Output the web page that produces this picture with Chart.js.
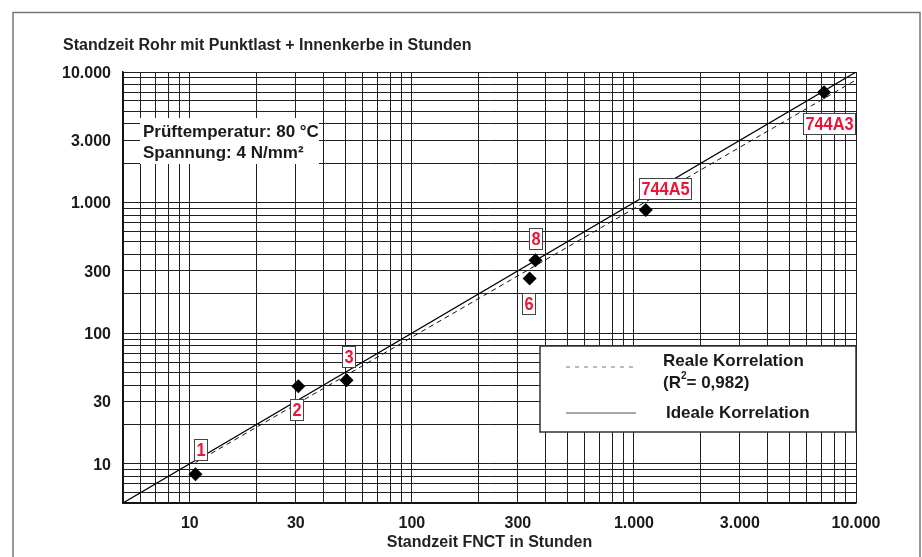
<!DOCTYPE html>
<html>
<head>
<meta charset="utf-8">
<script src="https://cdn.jsdelivr.net/npm/chart.js@4.4.1/dist/chart.umd.min.js"></script>
<style>
  html, body { margin: 0; padding: 0; background: #fff; }
  #chart { display: block; }
</style>
</head>
<body>
<canvas id="chart" width="922" height="557" style="width:922px;height:557px"></canvas>
<script>
const sampleNames = ['1', '2', '3', '6', '8', '744A5', '744A3'];
const fnctHours   = [10.6, 30.8, 50.8, 339, 360, 1130, 7180];
const pipeHours   = [8.3, 39.2, 43.6, 262, 362, 877, 7000];

// Korrelationsgeraden
const idealX = [5, 10000];
const idealY = [5, 10000];
const realX  = [10.6, 10000];
const realY  = [10.2, 8690];

const majorTicks = [10, 30, 100, 300, 1000, 3000, 10000];
const axisMin = 5, axisMax = 10000;

const FONT = "'Liberation Sans', Arial, Helvetica, sans-serif";
const RED = '#e8173a';
const INK = '#1a1a1a';

// alle Gitterlinien 5..10000
const gridValues = [];
for (let d = 1; d <= 1000; d *= 10) {
  for (let m = 1; m <= 9; m++) {
    const v = m * d;
    if (v >= axisMin) gridValues.push(v);
  }
}
gridValues.push(10000);

function deNum(v) {
  return String(v).replace(/\B(?=(\d{3})+(?!\d))/g, '.');
}

// Lage der roten Beschriftungen relativ zum Punkt
const labelOffset = {
  '1': [5, -25], '2': [-2, 23], '3': [2, -24], '6': [-1, 25],
  '8': [0, -22], '744A5': [19, -22], '744A3': [5, 31],
};

function logAxis(extra) {
  return Object.assign({
    type: 'logarithmic',
    min: axisMin,
    max: axisMax,
    afterBuildTicks: s => { s.ticks = gridValues.map(v => ({ value: v })); },
    ticks: {
      autoSkip: false,
      maxRotation: 0,
      color: INK,
      font: { family: FONT, size: 16, weight: 'bold' },
      callback: v => majorTicks.includes(v) ? deNum(v) : '',
    },
    grid: { color: '#1f1f1f', lineWidth: 1, drawTicks: false },
    border: { color: '#111', width: 1.5 },
  }, extra);
}

const decor = {
  id: 'decor',
  beforeDraw(chart) {
    const ctx = chart.ctx;
    ctx.save();
    ctx.fillStyle = '#fff';
    ctx.fillRect(0, 0, chart.width, chart.height);
    ctx.strokeStyle = '#777';
    ctx.lineWidth = 1.5;
    ctx.strokeRect(13, 12.5, 907, 600);
    ctx.restore();
  },
  afterDatasetsDraw(chart) {
    const ctx = chart.ctx, a = chart.chartArea;
    const xs = chart.scales.x, ys = chart.scales.y;
    ctx.save();

    // Titel
    ctx.fillStyle = '#222';
    ctx.font = `bold 16px ${FONT}`;
    ctx.textAlign = 'left';
    ctx.textBaseline = 'alphabetic';
    ctx.fillText('Standzeit Rohr mit Punktlast + Innenkerbe in Stunden', 63, 50);

    // Achsentitel
    ctx.textAlign = 'center';
    ctx.fillText('Standzeit FNCT in Stunden', (a.left + a.right) / 2, 547);

    // Prüfbedingungen
    ctx.fillStyle = '#fff';
    ctx.fillRect(a.left + 17, 118, 179, 46);
    ctx.fillStyle = INK;
    ctx.textAlign = 'left';
    ctx.font = `bold 17px ${FONT}`;
    ctx.fillText('Prüftemperatur: 80 °C', a.left + 20, 137);
    ctx.fillText('Spannung: 4 N/mm²', a.left + 20, 158);

    // Legende
    const lx = 540, ly = 346, lr = a.right, lb = 432;
    ctx.fillStyle = '#fff';
    ctx.fillRect(lx, ly, lr - lx, lb - ly);
    ctx.strokeStyle = '#333';
    ctx.lineWidth = 1.5;
    ctx.strokeRect(lx, ly, lr - lx, lb - ly);

    ctx.strokeStyle = '#777';
    ctx.lineWidth = 1.2;
    ctx.setLineDash([4, 5]);
    ctx.beginPath(); ctx.moveTo(566, 367); ctx.lineTo(634, 367); ctx.stroke();
    ctx.setLineDash([]);
    ctx.strokeStyle = '#555';
    ctx.beginPath(); ctx.moveTo(566, 413); ctx.lineTo(636, 413); ctx.stroke();

    ctx.fillStyle = INK;
    ctx.font = `bold 17px ${FONT}`;
    ctx.fillText('Reale Korrelation', 663, 366);
    ctx.fillText('(R', 663, 388);
    let w = ctx.measureText('(R').width;
    ctx.font = `bold 10px ${FONT}`;
    ctx.fillText('2', 663 + w, 379);
    w += ctx.measureText('2').width;
    ctx.font = `bold 17px ${FONT}`;
    ctx.fillText('= 0,982)', 663 + w, 388);
    ctx.fillText('Ideale Korrelation', 666, 418);

    // Probenbeschriftungen (schmal, gross, rot)
    const squeeze = 0.86;
    ctx.font = `bold 19px ${FONT}`;
    ctx.textAlign = 'center';
    ctx.textBaseline = 'middle';
    sampleNames.forEach((name, i) => {
      const [dx, dy] = labelOffset[name];
      const cx = xs.getPixelForValue(fnctHours[i]) + dx;
      const cy = ys.getPixelForValue(pipeHours[i]) + dy;
      const bw = Math.round(ctx.measureText(name).width * squeeze + 4), bh = 21;
      const bx = Math.round(cx - bw / 2), by = Math.round(cy - bh / 2);
      ctx.fillStyle = '#fff';
      ctx.fillRect(bx, by, bw, bh);
      ctx.strokeStyle = '#444';
      ctx.lineWidth = 1;
      ctx.strokeRect(bx + 0.5, by + 0.5, bw, bh);
      ctx.save();
      ctx.translate(bx + bw / 2 + 0.5, by + bh / 2 + 1.5);
      ctx.scale(squeeze, 1);
      ctx.fillStyle = RED;
      ctx.fillText(name, 0, 0);
      ctx.restore();
    });

    ctx.restore();
  },
};

new Chart(document.getElementById('chart'), {
  type: 'scatter',
  data: {
    datasets: [
      {
        label: 'Proben',
        data: fnctHours.map((x, i) => ({ x, y: pipeHours[i] })),
        pointStyle: 'rectRot',
        pointRadius: 7,
        backgroundColor: '#000',
        borderColor: '#000',
        borderWidth: 0,
      },
      {
        label: 'Reale Korrelation',
        data: realX.map((x, i) => ({ x, y: realY[i] })),
        showLine: true,
        borderColor: '#111',
        borderWidth: 1,
        borderDash: [5, 4],
        pointRadius: 0,
      },
      {
        label: 'Ideale Korrelation',
        data: idealX.map((x, i) => ({ x, y: idealY[i] })),
        showLine: true,
        borderColor: '#000',
        borderWidth: 1.2,
        pointRadius: 0,
      },
    ],
  },
  options: {
    responsive: false,
    animation: false,
    devicePixelRatio: 1,
    layout: { padding: { left: 0, top: 72, right: 66, bottom: 0 } },
    plugins: { legend: { display: false }, tooltip: { enabled: false }, title: { display: false } },
    scales: {
      x: logAxis({
        afterFit: s => { s.height = 54; },
        ticks: Object.assign({}, logAxis().ticks, { padding: 11 }),
      }),
      y: logAxis({
        afterFit: s => { s.width = 123; },
        ticks: Object.assign({}, logAxis().ticks, { padding: 12, labelOffset: 1.5 }),
      }),
    },
  },
  plugins: [decor],
});
</script>
</body>
</html>
